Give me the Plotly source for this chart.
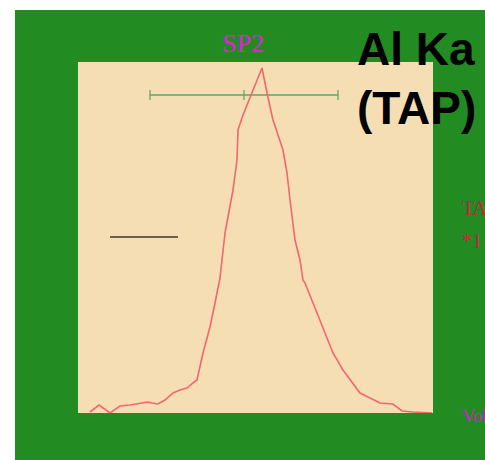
import plotly.graph_objects as go

# Wavelength-scan of the Al Ka line on the TAP crystal (spectrometer position vs. counts)
position = [12, 21, 32, 42, 52, 64, 70, 74, 80, 87, 95, 102, 109, 115, 119, 125, 132,
            137, 142, 147, 151, 155, 159, 160, 165, 172, 184, 189, 195, 205, 209, 212,
            217, 222, 225, 227, 235, 245, 255, 265, 272, 282, 292, 302, 315, 324, 335, 354]
counts = [1, 8, 0, 7, 8, 10, 11, 10, 9, 13, 20, 23, 25, 30, 33, 60, 86,
          110, 135, 180, 203, 223, 253, 283, 298, 316, 345, 320, 293, 263, 240, 213,
          173, 153, 133, 130, 110, 83, 60, 43, 33, 20, 15, 10, 9, 2, 1, 0]

# Peak position marker with its search window
peak_center = 166
window_low, window_high = 72, 260
window_level = 318

# Background level reference
bg_x = [32, 100]
bg_level = 176

fig = go.Figure()

fig.add_trace(go.Scatter(
    x=[window_low, window_high], y=[window_level, window_level],
    mode="lines", line=dict(color="rgba(90,160,100,0.7)", width=1.8),
    hoverinfo="skip", showlegend=False))
fig.add_trace(go.Scatter(
    x=[window_low, peak_center, window_high], y=[window_level] * 3,
    mode="markers",
    marker=dict(symbol="line-ns", size=7, line=dict(color="rgba(90,160,100,0.8)", width=1.5)),
    hoverinfo="skip", showlegend=False))

fig.add_trace(go.Scatter(
    x=bg_x, y=[bg_level, bg_level], mode="lines",
    line=dict(color="#6e5f4a", width=2), hoverinfo="skip", showlegend=False))

fig.add_trace(go.Scatter(
    x=position, y=counts, mode="lines",
    line=dict(color="#f2676f", width=1.6), showlegend=False))

# green panel behind, wheat plotting area on top of it
fig.add_shape(type="rect", xref="paper", yref="paper",
              x0=-0.1775, x1=1.15, y0=-0.14, y1=1.148,
              fillcolor="#228b22", line=dict(width=0), layer="below")
fig.add_shape(type="rect", xref="paper", yref="paper",
              x0=0, x1=1, y0=0, y1=1,
              fillcolor="#f5deb3", line=dict(width=0), layer="below")

ann = [
    dict(text="SP2", x=peak_center - 1, xref="x", y=1.054, yref="paper",
         xanchor="center", yanchor="middle",
         font=dict(family="Liberation Serif", size=26, color="#e01ee0")),
    dict(text="<b>Al Ka</b>", x=0.78, xref="paper", y=1.037, yref="paper",
         xanchor="left", yanchor="middle",
         font=dict(family="Liberation Sans", size=46, color="black")),
    dict(text="<b>(TAP)</b>", x=0.78, xref="paper", y=0.87, yref="paper",
         xanchor="left", yanchor="middle",
         font=dict(family="Liberation Sans", size=46, color="black")),
    dict(text="TAP", x=1.076, xref="paper", y=(413 - 208) / 351, yref="paper",
         xanchor="left", yanchor="middle",
         font=dict(family="Liberation Serif", size=20, color="#d02040")),
    dict(text="*1", x=1.076, xref="paper", y=(413 - 241) / 351, yref="paper",
         xanchor="left", yanchor="middle",
         font=dict(family="Liberation Serif", size=20, color="#d02040")),
    dict(text="Vol", x=1.076, xref="paper", y=(413 - 416) / 351, yref="paper",
         xanchor="left", yanchor="middle",
         font=dict(family="Liberation Serif", size=18, color="#d020d0")),
]
for a in ann:
    fig.add_annotation(showarrow=False, **a)

fig.update_layout(
    width=485, height=460,
    margin=dict(l=78, r=52, t=62, b=47),
    paper_bgcolor="white", plot_bgcolor="#f5deb3",
    xaxis=dict(range=[0, 355], visible=False, fixedrange=True),
    yaxis=dict(range=[0, 351], visible=False, fixedrange=True),
)

fig.write_html("out.html")
